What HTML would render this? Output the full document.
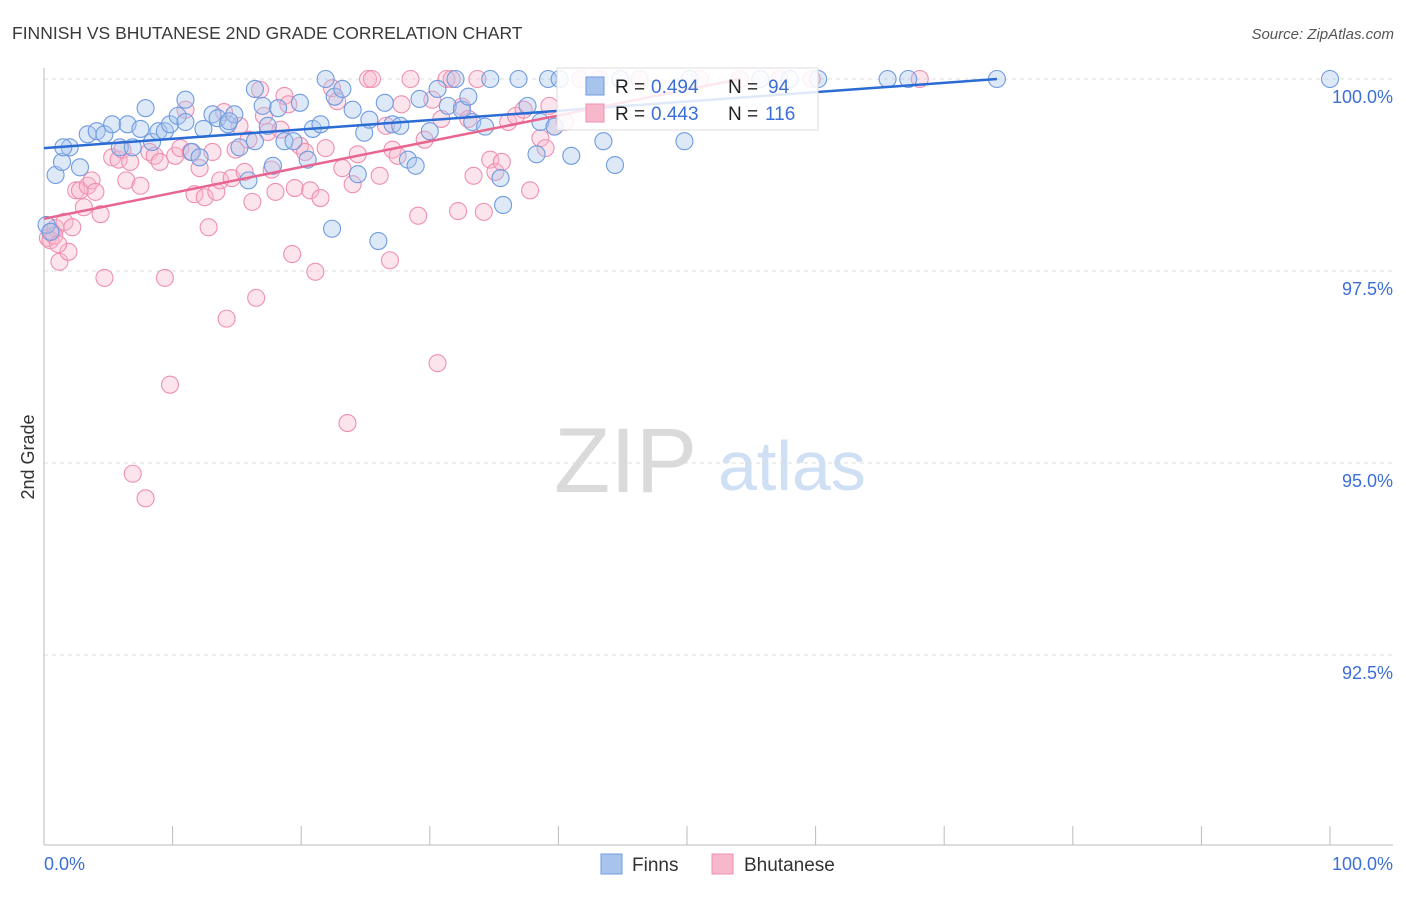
<!DOCTYPE html>
<html><head><meta charset="utf-8"><style>
body{margin:0;background:#fff;font-family:"Liberation Sans",sans-serif}
svg text{font-family:"Liberation Sans",sans-serif}
</style></head><body>
<svg id="chart" width="1406" height="892" viewBox="0 0 1406 892" xmlns="http://www.w3.org/2000/svg">
<text x="12" y="39" font-size="17.5" fill="#3a3a3a">FINNISH VS BHUTANESE 2ND GRADE CORRELATION CHART</text>
<text x="1394" y="39" font-size="15" fill="#555" text-anchor="end" font-style="italic">Source: ZipAtlas.com</text>
<g>
<text x="554" y="492" font-size="92" fill="#dadada" font-family="Liberation Serif,serif">ZIP</text>
<text x="718" y="490" font-size="70" fill="#cfdff4">atlas</text>
</g>
<g id="grid"></g>
<g id="axes"></g>
<g id="marks"></g>
<g>
<rect x="557" y="68" width="261" height="62" fill="#fff" fill-opacity="0.85" stroke="#ddd"/>
<rect x="586" y="77" width="18" height="18" fill="#a8c4ec" stroke="#6f9be0"/>
<text x="615" y="93" font-size="19" fill="#222">R = </text>
<text x="651" y="93" font-size="19" fill="#3b6fd6">0.494</text>
<text x="728" y="93" font-size="19" fill="#222">N = </text>
<text x="768" y="93" font-size="19" fill="#3b6fd6">94</text>
<rect x="586" y="104" width="18" height="18" fill="#f7b8cc" stroke="#ef8fb0"/>
<text x="615" y="120" font-size="19" fill="#222">R = </text>
<text x="651" y="120" font-size="19" fill="#3b6fd6">0.443</text>
<text x="728" y="120" font-size="19" fill="#222">N = </text>
<text x="765" y="120" font-size="19" fill="#3b6fd6">116</text>
</g>
<g>
<rect x="601" y="854" width="21" height="20" fill="#a8c4ec" stroke="#6f9be0"/>
<text x="632" y="871" font-size="19" fill="#333">Finns</text>
<rect x="712" y="854" width="21" height="20" fill="#f7b8cc" stroke="#ef8fb0"/>
<text x="744" y="871" font-size="19" fill="#333">Bhutanese</text>
</g>
<text transform="translate(34,457) rotate(-90)" font-size="18" fill="#333" text-anchor="middle">2nd Grade</text>
</svg>
<script>
const yTicks=[100,97.5,95,92.5];
const yTickLabels=["100.0%","97.5%","95.0%","92.5%"];
const xTickLabels=["0.0%","100.0%"];
const finnsX=[0.9,1.4,2.0,2.8,3.4,4.1,4.7,5.3,5.9,6.5,6.9,7.5,7.9,8.4,8.9,9.4,9.8,10.4,11.0,11.5,12.1,12.4,13.1,13.5,14.3,14.8,15.2,15.9,16.4,17.0,17.4,17.8,18.2,18.7,19.4,19.9,20.5,20.9,21.5,21.9,22.6,23.2,24.0,24.4,22.4,24.9,25.3,26.0,26.5,27.1,27.7,28.3,28.9,29.2,30.0,30.6,31.4,32.0,32.5,33.0,33.3,34.3,34.7,35.5,35.7,36.9,37.6,38.3,38.6,39.2,39.7,40.1,41.0,43.5,44.4,44.8,49.8,50.2,55.7,58.0,60.2,65.6,67.2,74.1,100,0.2,0.5,1.5,11.0,14.4,16.4];
const finnsY=[98.75,98.92,99.11,98.85,99.28,99.32,99.28,99.41,99.11,99.41,99.11,99.35,99.62,99.18,99.32,99.32,99.41,99.52,99.44,99.05,98.98,99.35,99.54,99.49,99.41,99.54,99.11,98.68,99.87,99.65,99.39,98.87,99.62,99.19,99.19,99.69,98.95,99.35,99.41,100,99.77,99.87,99.60,98.76,98.05,99.30,99.47,97.89,99.69,99.41,99.39,98.95,98.87,99.74,99.32,99.87,99.65,100,99.60,99.77,99.44,99.38,100,98.71,98.36,100,99.65,99.02,99.44,100,99.38,100,99.0,99.19,98.88,100,99.19,100,100,100,100,100,100,100,100,98.10,98.01,99.11,99.73,99.45,99.19];
const bhutX=[0.3,0.6,0.9,1.2,1.6,1.9,2.2,2.5,2.8,3.1,3.4,3.7,4.0,4.4,4.7,5.3,5.8,6.1,6.4,6.7,6.9,7.5,7.9,8.2,8.6,9.0,9.4,9.8,10.2,10.6,11.0,11.4,11.7,12.1,12.5,12.8,13.1,13.4,13.7,14.0,14.2,14.6,14.9,15.2,15.6,15.9,16.2,16.5,16.8,17.1,17.4,17.7,18.0,18.4,18.7,19.0,19.3,19.5,19.9,20.3,20.7,21.1,21.5,21.9,22.4,22.8,23.2,23.6,24.0,24.4,25.2,25.5,26.1,26.6,26.9,27.1,27.5,27.8,28.5,29.1,29.6,30.2,30.6,30.9,31.3,31.7,32.2,32.5,33.0,33.4,33.7,34.2,34.7,35.1,35.6,36.1,36.7,37.3,37.8,38.6,39.0,39.3,39.7,40.5,41.7,43.2,46.3,51.0,54.1,57.2,59.7,68.1,0.5,0.8,1.1];
const bhutY=[97.93,98.01,98.06,97.62,98.14,97.75,98.07,98.55,98.55,98.33,98.61,98.68,98.53,98.24,97.41,98.98,98.95,99.08,98.68,98.92,94.86,98.61,94.54,99.05,99.0,98.92,97.41,96.02,99.0,99.10,99.60,99.05,98.50,98.84,98.46,98.07,99.05,98.53,98.68,99.57,96.88,98.71,99.08,99.39,98.79,99.21,98.40,97.15,99.86,99.52,99.31,98.82,98.53,99.34,99.78,99.67,97.72,98.58,99.13,99.05,98.55,97.49,98.45,99.10,99.88,99.71,98.84,95.52,98.63,99.02,100,100,98.74,99.39,97.64,99.08,99.0,99.67,100,98.22,99.21,99.73,96.30,99.48,100,100,98.28,99.64,99.48,98.74,100,98.27,98.95,98.79,98.92,99.44,99.52,99.60,98.55,99.23,99.10,99.65,99.38,99.44,100,100,100,100,100,100,100,100,97.90,97.96,97.85];
const finnsTrendX=[0,74.1], finnsTrendY=[99.10,100];
const bhutTrendX=[0,54.1], bhutTrendY=[98.18,100];

const NS="http://www.w3.org/2000/svg";
const sx=v=>44+v*12.86;
const sy=v=>79+(100-v)*76.8;
function mk(tag,attrs,parent){const e=document.createElementNS(NS,tag);for(const k in attrs)e.setAttribute(k,attrs[k]);parent.appendChild(e);return e;}
const grid=document.getElementById('grid'),axes=document.getElementById('axes'),marks=document.getElementById('marks');
yTicks.forEach((t,i)=>{
  const l=mk('line',{x1:44,x2:1393,y1:sy(t),y2:sy(t),stroke:'#ddd','stroke-dasharray':'4,4'},grid);
  
  
  const tx=mk('text',{x:1393,y:sy(t)+24,'font-size':18,fill:'#3b6fd6','text-anchor':'end'},axes);
  tx.textContent=yTickLabels[i];
  
  
});
let al=mk('line',{x1:44,x2:44,y1:68,y2:845,stroke:'#bbb'},axes);


let bl=mk('line',{x1:44,x2:1393,y1:845,y2:845,stroke:'#bbb'},axes);


for(let i=0;i<=10;i++){
  const t=mk('line',{x1:sx(i*10),x2:sx(i*10),y1:826,y2:845,stroke:'#bbb'},axes);
  
  
}
[[0,'start'],[100,'end']].forEach((p,i)=>{
  const t=mk('text',{x:i?1393:44,y:870,'font-size':18,fill:'#3b6fd6','text-anchor':p[1]},axes);
  t.textContent=xTickLabels[i];
  
  
});
function pts(X,Y,fill,stroke,name){
  X.forEach((x,i)=>{
    const c=mk('circle',{cx:sx(x),cy:sy(Y[i]),r:8.5,fill:fill,'fill-opacity':0.38,stroke:stroke,'stroke-width':1.1},marks);
    
    
  });
}
pts(bhutX,bhutY,'#f7b8cc','#ef8fb0','bhutanese-point');
pts(finnsX,finnsY,'#a8c4ec','#6f9be0','finns-point');
const l1=mk('line',{x1:sx(finnsTrendX[0]),y1:sy(finnsTrendY[0]),x2:sx(finnsTrendX[1]),y2:sy(finnsTrendY[1]),stroke:'#2a6bd4','stroke-width':2.5},marks);


const l2=mk('line',{x1:sx(bhutTrendX[0]),y1:sy(bhutTrendY[0]),x2:sx(bhutTrendX[1]),y2:sy(bhutTrendY[1]),stroke:'#e8658f','stroke-width':2.5},marks);


</script>
</body></html>
